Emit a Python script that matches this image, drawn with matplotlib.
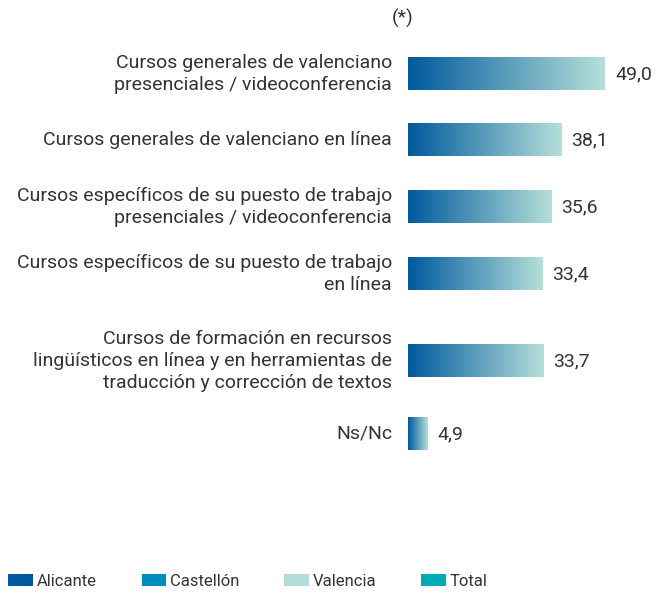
import numpy as np
import matplotlib.pyplot as plt
from matplotlib.colors import LinearSegmentedColormap
from matplotlib.patches import Patch

plt.rcParams['font.family'] = ['Roboto', 'DejaVu Sans']

# Datos
categorias = [
    "Cursos generales de valenciano\npresenciales / videoconferencia",
    "Cursos generales de valenciano en línea",
    "Cursos específicos de su puesto de trabajo\npresenciales / videoconferencia",
    "Cursos específicos de su puesto de trabajo\nen línea",
    "Cursos de formación en recursos\nlingüísticos en línea y en herramientas de\ntraducción y corrección de textos",
    "Ns/Nc",
]
valores = [49.0, 38.1, 35.6, 33.4, 33.7, 4.9]
provincias = ["Alicante", "Castellón", "Valencia", "Total"]
colores_prov = ["#0059a0", "#008cbf", "#b3ddd8", "#00a9b6"]

# posiciones verticales de cada barra (en pixeles de la figura)
ys = [74, 140, 207, 274, 361, 434]
alto_barra = 33

fig = plt.figure(figsize=(6.63, 5.97), dpi=100)
ax = fig.add_axes([408 / 663, 0, 255 / 663, 1])
escala = 4.02  # px por unidad
ax.axis('off')

cmap = LinearSegmentedColormap.from_list('grad', ["#005a9c", "#b5dfd9"])
grad = np.linspace(0, 1, 256).reshape(1, -1)

for y, v, cat in zip(ys, valores, categorias):
    ax.imshow(grad, cmap=cmap, aspect='auto',
              extent=(0, v, y + alto_barra / 2, y - alto_barra / 2))
    ax.text(v + 10 / escala, y, f"{v:.1f}".replace('.', ','), va='center',
            ha='left', fontsize=14, color='#333333')
    ax.text(-16 / escala, y, cat, va='center', ha='right', fontsize=14,
            color='#333333', linespacing=1.3, clip_on=False)

ax.set_xlim(0, 255 / escala)
ax.set_ylim(597, 0)

fig.text(403 / 663, 1 - 18 / 597, "(*)", ha='center', va='center',
         fontsize=14, color='#333333')

handles = [Patch(facecolor=c, edgecolor='none') for c in colores_prov]
fig.legend(handles, provincias, loc='lower left', bbox_to_anchor=(0.0, 0.0),
           ncol=4, frameon=False, fontsize=12, handlelength=1.45,
           handleheight=0.8, handletextpad=0.25, columnspacing=2.7,
           labelcolor='#333333', borderaxespad=0.15, borderpad=0.35)

fig.savefig('out.png', dpi=100)
